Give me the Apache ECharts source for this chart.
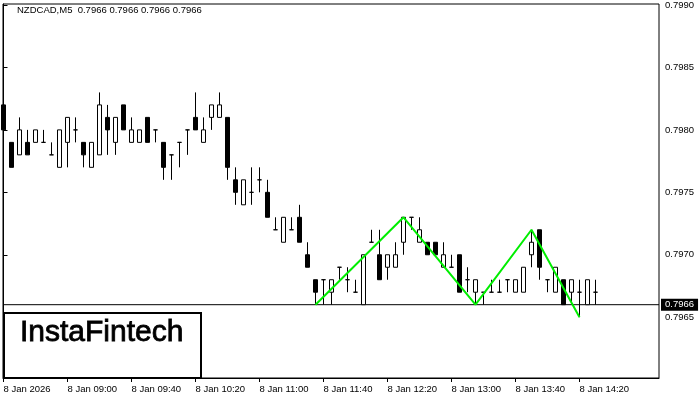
<!DOCTYPE html>
<html>
<head>
<meta charset="utf-8">
<script src="https://cdn.jsdelivr.net/npm/echarts@6/dist/echarts.min.js"></script>
<style>html,body{margin:0;padding:0;background:#fff;}#c{width:700px;height:400px;}</style>
</head>
<body>
<div id="c"></div>
<script>
// 5-minute candles, 08:20 .. 14:30 (index 0 .. 74)
const opens = [
  0.7982,0.7979,0.7978,0.7979,0.7979,0.7979,0.7978,0.7977,0.7979,0.7980,
  0.7979,0.7977,0.7978,0.7981,0.7979,0.7982,0.7979,0.7979,0.7981,0.7980,
  0.7979,0.7978,0.7979,0.7980,0.7981,0.7979,0.7981,0.7981,0.7981,0.7976,
  0.7974,0.7975,0.7976,0.7975,0.7972,0.7971,0.7972,0.7973,0.7970,0.7968,
  0.7968,0.7967,0.7969,0.7968,0.7967,0.7966,0.7971,0.7970,0.7969,0.7969,
  0.7971,0.7973,0.7971,0.7971,0.7971,0.7969,0.7969,0.7970,0.7968,0.7967,
  0.7967,0.7967,0.7967,0.7968,0.7967,0.7967,0.7970,0.7972,0.7968,0.7967,
  0.7968,0.7967,0.7967,0.7966,0.7967
];
const closes = [
  0.7980,0.7977,0.7980,0.7978,0.7980,0.7979,0.7978,0.7980,0.7981,0.7980,
  0.7978,0.7979,0.7982,0.7980,0.7981,0.7980,0.7980,0.7980,0.7979,0.7980,
  0.7977,0.7978,0.7979,0.7980,0.7980,0.7980,0.7982,0.7982,0.7977,0.7975,
  0.7976,0.7975,0.7976,0.7973,0.7972,0.7973,0.7972,0.7971,0.7969,0.7967,
  0.7968,0.7968,0.7969,0.7968,0.7967,0.7970,0.7971,0.7968,0.7970,0.7970,
  0.7973,0.7973,0.7972,0.7970,0.7970,0.7970,0.7969,0.7967,0.7968,0.7968,
  0.7967,0.7967,0.7967,0.7968,0.7968,0.7969,0.7971,0.7969,0.7968,0.7969,
  0.7966,0.7968,0.7967,0.7968,0.7967
];
const lows = [
  0.7980,0.7977,0.7978,0.7978,0.7979,0.7979,0.7978,0.7977,0.7977,0.7979,
  0.7977,0.7977,0.7978,0.7978,0.7978,0.7980,0.7979,0.7979,0.7979,0.7979,
  0.7976,0.7976,0.7977,0.7978,0.7980,0.7979,0.7980,0.7981,0.7976,0.7974,
  0.7974,0.7974,0.7975,0.7973,0.7972,0.7971,0.7972,0.7971,0.7969,0.7966,
  0.7966,0.7966,0.7968,0.7967,0.7967,0.7966,0.7971,0.7968,0.7968,0.7969,
  0.7970,0.7972,0.7971,0.7970,0.7970,0.7969,0.7969,0.7967,0.7967,0.7966,
  0.7966,0.7967,0.7967,0.7967,0.7967,0.7967,0.7969,0.7968,0.7967,0.7967,
  0.7966,0.7966,0.7965,0.7966,0.7966
];
const highs = [
  0.7982,0.7979,0.7981,0.7980,0.7980,0.7980,0.7979,0.7980,0.7981,0.7981,
  0.7979,0.7979,0.7983,0.7982,0.7981,0.7982,0.7981,0.7980,0.7981,0.7980,
  0.7979,0.7978,0.7979,0.7980,0.7983,0.7981,0.7982,0.7983,0.7981,0.7977,
  0.7976,0.7977,0.7977,0.7976,0.7973,0.7973,0.7973,0.7974,0.7971,0.7968,
  0.7968,0.7968,0.7969,0.7969,0.7968,0.7970,0.7972,0.7972,0.7970,0.7971,
  0.7973,0.7973,0.7973,0.7971,0.7971,0.7971,0.7970,0.7970,0.7969,0.7968,
  0.7967,0.7968,0.7968,0.7968,0.7968,0.7969,0.7972,0.7972,0.7968,0.7969,
  0.7968,0.7968,0.7968,0.7968,0.7968
];
// pattern (green) vertices: candle index and price
const patternIdx = [39, 50, 59, 66, 72];
const patternPrice = [0.7966, 0.7973, 0.7966, 0.7972, 0.7965];
// current price line
const lastPrice = 0.7966;
// axis ticks
const xTickIdx = [0, 8, 16, 24, 32, 40, 48, 56, 64, 72];
const xTickLabels = ['8 Jan 2026','8 Jan 09:00','8 Jan 09:40','8 Jan 10:20','8 Jan 11:00',
                     '8 Jan 11:40','8 Jan 12:20','8 Jan 13:00','8 Jan 13:40','8 Jan 14:20'];
const yTicks = [0.7965, 0.7970, 0.7975, 0.7980, 0.7985, 0.7990];
const titleText = 'NZDCAD,M5  0.7966 0.7966 0.7966 0.7966';

const X_MIN = -0.0625, X_MAX = 81.9375;
const candleData = opens.map((o, i) => [i, o, closes[i], lows[i], highs[i]]);
const patternData = patternIdx.map((x, i) => [x, patternPrice[i]]);
const priceLineData = [[X_MIN, lastPrice], [X_MAX, lastPrice]];
const FONT = 'Liberation Sans';

const chart = echarts.init(document.getElementById('c'), null, {renderer: 'canvas'});
chart.setOption({
  animation: false,
  backgroundColor: '#fff',
  grid: {left: 3, right: 41, top: 3, bottom: 22, show: true, borderColor: '#000', borderWidth: 1, backgroundColor: '#fff'},
  xAxis: {
    type: 'value', min: X_MIN, max: X_MAX,
    axisLine: {show: true, onZero: false, lineStyle: {color: '#000', width: 1}},
    axisTick: {show: true, customValues: xTickIdx, length: 4, lineStyle: {color: '#000'}},
    axisLabel: {
      show: true, customValues: xTickIdx, align: 'left', margin: 6,
      fontFamily: FONT, fontSize: 9.5, color: '#000',
      formatter: v => xTickLabels[xTickIdx.indexOf(Math.round(v))] || ''
    },
    splitLine: {show: false}
  },
  yAxis: {
    type: 'value', position: 'right', min: 0.79601302, max: 0.79900799, scale: true,
    axisLine: {show: true, lineStyle: {color: '#000', width: 1}},
    axisTick: {show: true, customValues: yTicks, length: 4, lineStyle: {color: '#000'}},
    axisLabel: {
      show: true, customValues: yTicks, margin: 6, align: 'left',
      fontFamily: FONT, fontSize: 9.5, color: '#000',
      formatter: v => v.toFixed(4)
    },
    splitLine: {show: false}
  },
  series: [
    {
      type: 'line',
      data: priceLineData,
      symbol: 'none',
      silent: true,
      clip: false,
      lineStyle: {color: '#000', width: 1},
      z: 1,
      endLabel: {show: true, formatter: lastPrice.toFixed(4), distance: 2,
                 backgroundColor: '#000', color: '#fff', padding: [1, 4, 1, 4],
                 fontFamily: FONT, fontSize: 9.5, align: 'left', verticalAlign: 'middle'}
    },
    {
      type: 'candlestick',
      data: candleData,
      barWidth: 4,
      z: 2,
      itemStyle: {color: '#fff', color0: '#000', borderColor: '#000', borderColor0: '#000', borderColorDoji: '#000', borderWidth: 1}
    },
    {
      type: 'line',
      data: patternData,
      symbol: 'none',
      lineStyle: {color: '#00ee00', width: 2},
      z: 5
    }
  ],
  graphic: [
    {type: 'text', left: 17, top: 5, z: 100,
     style: {text: titleText, fontFamily: FONT, fontSize: 9.5, fill: '#000'}},
    {type: 'rect', z: 100, shape: {x: 4, y: 313, width: 197, height: 65},
     style: {fill: '#fff', stroke: '#000', lineWidth: 2}},
    {type: 'text', z: 101, x: 20, y: 333,
     style: {text: 'InstaFintech', fontFamily: FONT, fontSize: 30, fill: '#000', stroke: '#000', lineWidth: 0.8, verticalAlign: 'middle'}}
  ]
});
</script>
</body>
</html>
